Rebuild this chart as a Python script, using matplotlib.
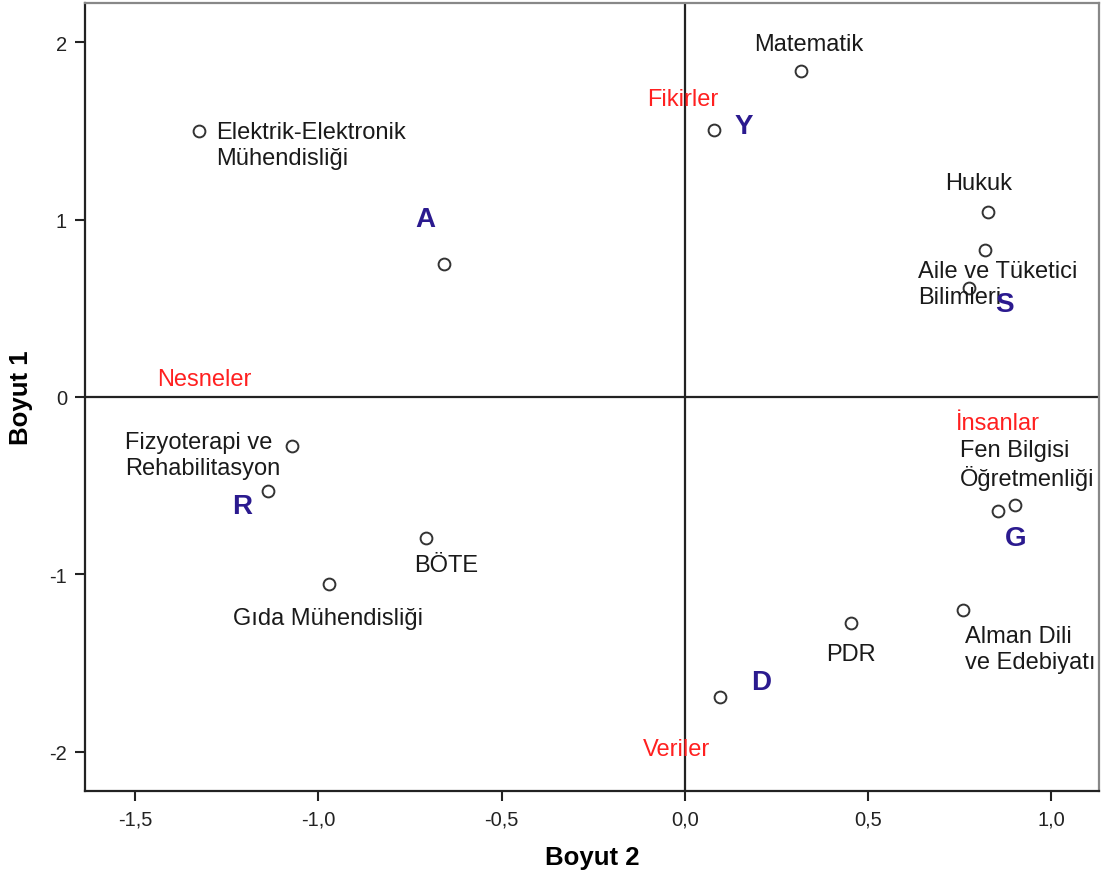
import matplotlib
matplotlib.use("Agg")
import matplotlib.pyplot as plt

# department points (Boyut 2, Boyut 1)
dept_x = [-1.325, -0.658, 0.317, 0.079, 0.828, 0.820, 0.776, -1.071, -1.137,
          -0.705, -0.970, 0.855, 0.902, 0.760, 0.454, 0.096]
dept_y = [1.497, 0.751, 1.836, 1.503, 1.040, 0.831, 0.616, -0.277, -0.531,
          -0.797, -1.056, -0.644, -0.610, -1.198, -1.271, -1.689]

# department labels: text, x, y, horizontal alignment
labels = ["Matematik", "Elektrik-Elektronik\nMühendisliği", "Hukuk",
          "Aile ve Tüketici\nBilimleri", "Fizyoterapi ve\nRehabilitasyon", "BÖTE",
          "Gıda Mühendisliği", "Fen Bilgisi\nÖğretmenliği", "Alman Dili\nve Edebiyatı", "PDR"]
label_x = [0.339, -1.279, 0.803, 0.637, -1.527, -0.650, -0.973, 0.751, 0.765, 0.454]
label_y = [1.99, 1.42, 1.206, 0.637, -0.327, -0.946, -1.245, -0.383, -1.42, -1.448]
label_ha = ["center", "left", "center", "left", "left", "center", "center", "left", "left", "center"]

# Holland codes
codes = ["A", "Y", "S", "R", "G", "D"]
code_x = [-0.708, 0.161, 0.872, -1.208, 0.904, 0.208]
code_y = [1.003, 1.527, 0.524, -0.614, -0.794, -1.606]

# work-task poles
poles = ["Fikirler", "Nesneler", "İnsanlar", "Veriler"]
pole_x = [-0.005, -1.311, 0.855, -0.022]
pole_y = [1.679, 0.101, -0.146, -1.983]

xticks = [-1.5, -1.0, -0.5, 0.0, 0.5, 1.0]
xtick_labels = ["-1,5", "-1,0", "-0,5", "0,0", "0,5", "1,0"]
yticks = [2, 1, 0, -1, -2]
ytick_labels = ["2", "1", "0", "-1", "-2"]

plt.rcParams['font.family'] = ['Liberation Sans', 'DejaVu Sans']

fig = plt.figure(figsize=(11.03, 8.78), dpi=100)
ax = fig.add_axes([0.0771, 0.098, 0.9193, 0.8974])

ax.axhline(0, color='#222222', lw=1.6, zorder=1)
ax.axvline(0, color='#222222', lw=1.6, zorder=1)

ax.plot(dept_x, dept_y, 'o', ms=8.5, mfc='white', mec='#333333', mew=1.4, zorder=3)

for t, x, y, ha in zip(labels, label_x, label_y, label_ha):
    ax.text(x, y, t, ha=ha, va='center', fontsize=17, color='#1a1a1a', zorder=4)
for t, x, y in zip(codes, code_x, code_y):
    ax.text(x, y, t, ha='center', va='center', fontsize=20, fontweight='bold',
            color='#2b1a8f', zorder=5)
for t, x, y in zip(poles, pole_x, pole_y):
    ax.text(x, y, t, ha='center', va='center', fontsize=17, color='#ff2020', zorder=4)

ax.set_xlim(-1.637, 1.131)
ax.set_ylim(-2.22, 2.22)
ax.set_xticks(xticks)
ax.set_xticklabels(xtick_labels)
ax.set_yticks(yticks)
ax.set_yticklabels(ytick_labels)
ax.tick_params(direction='out', length=7, width=1.5, labelsize=14.5, colors='#222222', pad=6)

for side in ['left', 'bottom']:
    ax.spines[side].set_linewidth(1.6)
    ax.spines[side].set_color('#222222')
for side in ['top', 'right']:
    ax.spines[side].set_linewidth(1.6)
    ax.spines[side].set_color('#888888')

ax.set_xlabel('Boyut 2', fontsize=18.5, fontweight='bold', labelpad=12)
ax.set_ylabel('Boyut 1', fontsize=18.5, fontweight='bold', labelpad=12)

fig.savefig('out.png', dpi=100)
